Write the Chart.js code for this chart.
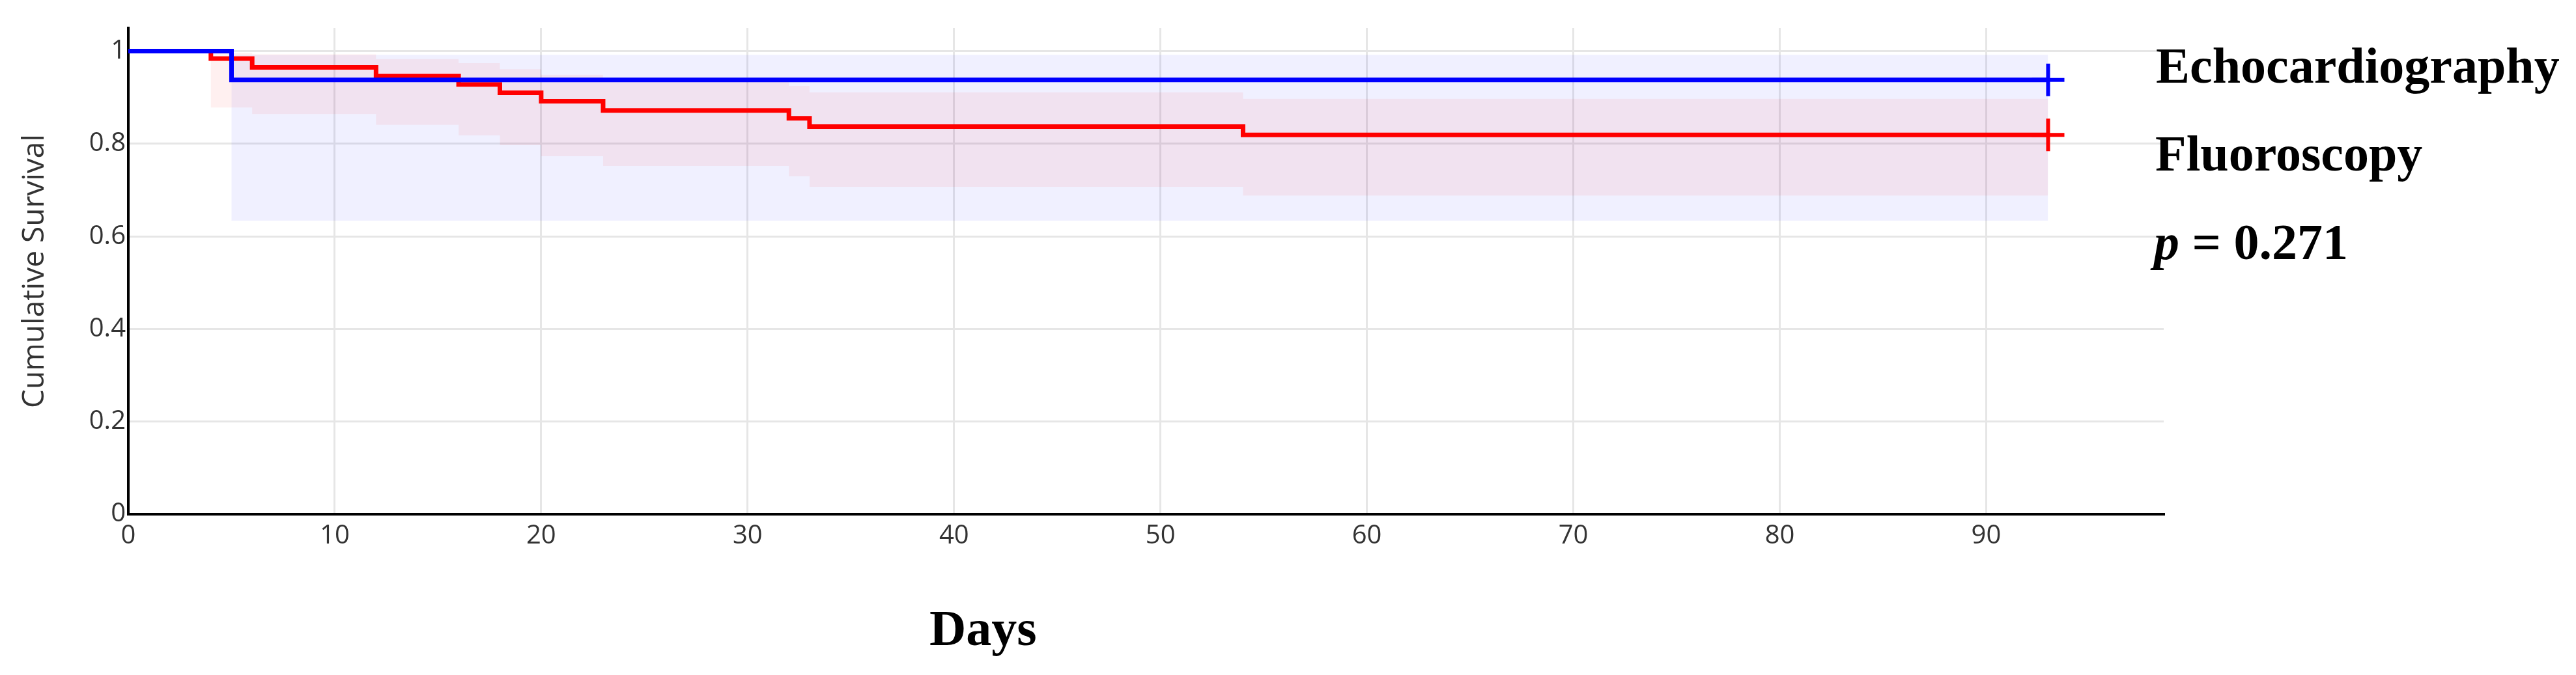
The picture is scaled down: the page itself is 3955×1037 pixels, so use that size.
<!DOCTYPE html>
<html>
<head>
<meta charset="utf-8">
<title>Cumulative Survival</title>
<script src="https://cdn.jsdelivr.net/npm/chart.js@4.4.0/dist/chart.umd.min.js"></script>
<style>
  body { margin: 0; background: #fff; overflow: hidden; }
  #wrap { position: relative; width: 3955px; height: 1037px; }
  #km { position: absolute; left: 0; top: 0; display: block; }
  .lbl { position: absolute; font-family: "Liberation Serif", serif; font-weight: bold; font-size: 78px; line-height: 1; color: #000; white-space: nowrap; }
</style>
</head>
<body>
<div id="wrap">
  <canvas id="km" width="3955" height="1037"></canvas>
  <div class="lbl" style="left:3310px;top:62px">Echocardiography</div>
  <div class="lbl" style="left:3309px;top:197px">Fluoroscopy</div>
  <div class="lbl" style="left:3307px;top:333px"><i>p</i> = 0.271</div>
  <div class="lbl" style="left:1427px;top:926px">Days</div>
</div>
<script>
// Kaplan-Meier steps (day of each step, value after it)
const echoDays   = [0, 5, 93];
const echoSurv   = [1, 0.938, 0.938];
const echoUpper  = [1, 0.992, 0.992];
const echoLower  = [1, 0.634, 0.634];

const fluoroDays  = [0, 4, 6, 12, 16, 18, 20, 23, 32, 33, 54, 93];
const fluoroSurv  = [1, 0.984, 0.965, 0.946, 0.928, 0.910, 0.892, 0.872, 0.855, 0.837, 0.819, 0.819];
const fluoroUpper = [1, 0.996, 0.993, 0.983, 0.974, 0.961, 0.949, 0.936, 0.925, 0.911, 0.897, 0.897];
const fluoroLower = [1, 0.878, 0.864, 0.841, 0.818, 0.797, 0.773, 0.752, 0.730, 0.707, 0.688, 0.688];

const xTicks = [0, 10, 20, 30, 40, 50, 60, 70, 80, 90];
const yTicks = [0, 0.2, 0.4, 0.6, 0.8, 1];

const pts = (days, vals) => days.map((d, i) => ({x: d, y: vals[i]}));
// censor cross only on the last point
const censor = days => days.map((d, i) => i === days.length - 1 ? 25 : 0);

const none = 'rgba(0,0,0,0)';
const tickFont = {family: 'Open Sans', size: 40};

new Chart(document.getElementById('km'), {
  type: 'line',
  data: {
    datasets: [
      {label: 'Echocardiography', data: pts(echoDays, echoSurv), stepped: 'before',
       borderColor: '#0000ff', borderWidth: 7, fill: false, order: 0,
       pointStyle: 'cross', pointRadius: censor(echoDays), pointBorderWidth: 6,
       pointBorderColor: '#0000ff'},
      {label: 'Fluoroscopy', data: pts(fluoroDays, fluoroSurv), stepped: 'before',
       borderColor: '#ff0000', borderWidth: 7, fill: false, order: 1,
       pointStyle: 'cross', pointRadius: censor(fluoroDays), pointBorderWidth: 6,
       pointBorderColor: '#ff0000'},
      // confidence bands
      {label: 'echo upper', data: pts(echoDays, echoUpper), stepped: 'before',
       borderColor: none, pointRadius: 0, fill: false, order: 3},
      {label: 'echo lower', data: pts(echoDays, echoLower), stepped: 'before',
       borderColor: none, pointRadius: 0, fill: '-1', backgroundColor: 'rgba(0,0,255,0.06)', order: 3},
      {label: 'fluoro upper', data: pts(fluoroDays, fluoroUpper), stepped: 'before',
       borderColor: none, pointRadius: 0, fill: false, order: 2},
      {label: 'fluoro lower', data: pts(fluoroDays, fluoroLower), stepped: 'before',
       borderColor: none, pointRadius: 0, fill: '-1', backgroundColor: 'rgba(255,0,0,0.06)', order: 2}
    ]
  },
  options: {
    responsive: false,
    animation: false,
    layout: {padding: {left: 0, top: 43, right: 633, bottom: 147}},
    plugins: {legend: {display: false}, tooltip: {enabled: false}},
    scales: {
      x: {
        type: 'linear', min: 0, max: 98.6,
        afterBuildTicks: a => { a.ticks = xTicks.map(v => ({value: v})); },
        afterFit: a => { a.height = 100; },
        grid: {color: '#e6e6e6', lineWidth: 3, drawTicks: false},
        border: {color: '#000', width: 4},
        ticks: {padding: 10, autoSkip: false, maxRotation: 0, color: '#333', font: tickFont}
      },
      y: {
        min: 0, max: 1.05,
        afterBuildTicks: a => { a.ticks = yTicks.map(v => ({value: v})); },
        afterFit: a => { a.width = 197; },
        grid: {color: '#e6e6e6', lineWidth: 3, drawTicks: false},
        border: {color: '#000', width: 4},
        ticks: {padding: 4, color: '#333', font: tickFont, callback: v => String(v)},
        title: {display: true, text: 'Cumulative Survival', color: '#333',
                font: {family: 'Open Sans', size: 46}, padding: {top: 26, bottom: 0}}
      }
    }
  }
});
</script>
</body>
</html>
